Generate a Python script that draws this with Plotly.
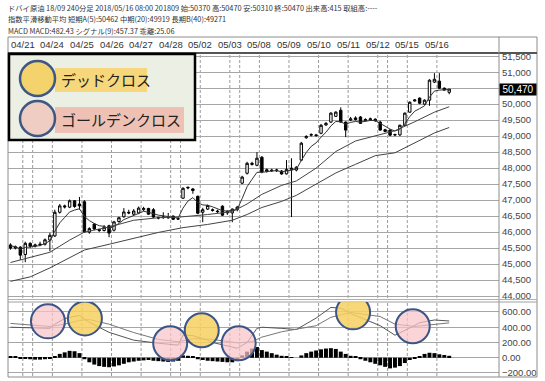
import plotly.graph_objects as go
from plotly.subplots import make_subplots

# ---------------- data ----------------
bar_open = [45600, 45500, 45530, 45300, 45650, 45560, 45600, 45620, 45750, 45880,
            46620, 46820, 46780, 46980, 46880, 46950, 46000, 46250, 46080, 46050,
            46200, 46060, 46330, 46480, 46620, 46560, 46600, 46700, 46740, 46700,
            46460, 46450, 46460, 46500, 46420, 47060, 47380, 47350, 47120, 46620,
            46720, 46700, 46660, 46810, 46600, 46600, 46700, 47530, 47840, 48150,
            48090, 48340, 47900, 47940, 47920, 47910, 47820, 47950, 47940, 48250,
            48950, 49030, 49040, 49090, 49350, 49440, 49620, 49810, 49440, 49500,
            49570, 49600, 49480, 49510, 49530, 49440, 49200, 49190, 49050, 49040,
            49340, 49750, 50100, 50190, 50000, 50125, 50690, 50720, 50500, 50370]
bar_high = [45650, 45580, 45560, 45700, 45680, 45640, 45700, 45800, 45980, 46700,
            46880, 46860, 47020, 47000, 47100, 47000, 46150, 46280, 46100, 46220,
            46230, 46350, 46480, 46750, 46700, 46720, 46800, 46790, 46760, 46750,
            46480, 46620, 46600, 46520, 46440, 47400, 47420, 47380, 47140, 46760,
            46860, 46740, 46700, 46840, 46680, 46740, 46820, 47760, 48200, 48200,
            48500, 48380, 47990, 47980, 47980, 47940, 48250, 48310, 48060, 48820,
            49030, 49090, 49070, 49380, 49440, 49750, 49780, 49900, 49460, 49600,
            49620, 49630, 49560, 49580, 49560, 49480, 49230, 49210, 49080, 49360,
            49740, 50090, 50160, 50210, 50150, 50780, 50970, 50970, 50520, 50470]
bar_low = [45450, 45460, 45130, 45060, 45500, 45520, 45560, 45580, 45400, 45850,
           46580, 46740, 46750, 46760, 46700, 45980, 45950, 46060, 46000, 46020,
           45840, 46020, 46300, 46450, 46560, 46520, 46560, 46660, 46540, 46440,
           46400, 46420, 46420, 46380, 46380, 47040, 47340, 47200, 46560, 46310,
           46690, 46640, 46600, 46500, 46540, 46310, 46650, 47500, 47800, 48080,
           48060, 47840, 47860, 47880, 47880, 47790, 47800, 46470, 47900, 48220,
           48920, 48990, 48980, 49060, 49320, 49420, 49600, 49420, 48970, 49470,
           49490, 49380, 49460, 49480, 49450, 49170, 49120, 49000, 49000, 49000,
           49320, 49730, 50080, 50000, 49980, 49950, 50660, 50480, 50420, 50310]
bar_close = [45500, 45540, 45280, 45650, 45560, 45600, 45620, 45760, 45900, 46620,
             46820, 46790, 46980, 46800, 46820, 46010, 46110, 46100, 46050, 46150,
             45970, 46320, 46450, 46630, 46600, 46660, 46750, 46740, 46560, 46470,
             46440, 46470, 46450, 46400, 46410, 47370, 47400, 47300, 46590, 46700,
             46830, 46680, 46640, 46530, 46640, 46720, 46780, 47720, 48150, 48120,
             48310, 47880, 47950, 47920, 47940, 47820, 47960, 48000, 48030, 48780,
             48990, 49050, 49020, 49340, 49400, 49720, 49750, 49440, 49190, 49540,
             49520, 49400, 49520, 49540, 49480, 49190, 49150, 49030, 49040, 49340,
             49720, 50060, 50130, 50030, 50125, 50750, 50780, 50500, 50440, 50470]

ma_short = [45560, 45550, 45460, 45520, 45535, 45560, 45580, 45640, 45730, 46030,
            46290, 46460, 46630, 46690, 46730, 46490, 46360, 46270, 46200, 46180,
            46110, 46180, 46270, 46390, 46460, 46530, 46600, 46650, 46620, 46570,
            46530, 46510, 46490, 46460, 46440, 46750, 46970, 47080, 46920, 46850,
            46840, 46790, 46740, 46670, 46660, 46680, 46710, 47050, 47420, 47650,
            47870, 47870, 47900, 47910, 47920, 47890, 47910, 47940, 47970, 48240,
            48490, 48680, 48790, 48970, 49120, 49320, 49460, 49450, 49370, 49430,
            49460, 49440, 49470, 49490, 49490, 49390, 49310, 49220, 49160, 49220,
            49390, 49610, 49780, 49860, 49950, 50220, 50410, 50440, 50440, 50460]

ma_mid_bar = [0, 4, 8, 12, 15, 20, 25, 30, 35, 40, 45, 48, 51, 55, 58, 62, 66, 70, 74, 78, 82, 86, 89]
ma_mid = [45050, 45200, 45370, 45750, 46000, 46160, 46370, 46450, 46480, 46550, 46640, 46880,
          47180, 47460, 47600, 48000, 48520, 48850, 49020, 49170, 49450, 49750, 49919]
ma_long_bar = [0, 4, 8, 12, 15, 20, 25, 30, 35, 40, 45, 48, 51, 55, 58, 62, 66, 70, 74, 78, 82, 86, 89]
ma_long = [44460, 44600, 44880, 45200, 45440, 45620, 45810, 45990, 46140, 46240, 46370, 46550,
           46770, 46960, 47150, 47500, 47850, 48120, 48390, 48480, 48780, 49100, 49271]

macd_bar = [0, 5, 8, 9, 11, 14, 16, 20, 25, 30, 34, 35, 37, 40, 41, 46, 48, 50, 51, 55, 58,
            62, 65, 67, 69, 75, 78, 81, 83, 86, 89]
macd_line = [400, 395, 385, 440, 515, 555, 465, 333, 230, 190, 165, 295, 290, 230, 200, 124, 200,
             385, 400, 385, 370, 520, 660, 650, 580, 420, 295, 390, 460, 495, 482]
signal_bar = [0, 4, 8, 11, 14, 16, 20, 25, 30, 34, 37, 41, 46, 49, 51, 55, 58, 62, 65, 69, 75, 78,
              82, 86, 89]
signal_line = [450, 430, 410, 440, 490, 500, 440, 330, 240, 210, 250, 240, 195, 210, 270, 340, 370,
               420, 530, 595, 540, 440, 410, 435, 457]
macd_hist = [15, 10, -10, -15, -20, -25, -25, -20, -15, 20,
             50, 70, 90, 85, 60, -20, -60, -90, -110, -120,
             -125, -115, -100, -80, -60, -50, -40, -35, -30, -40,
             -45, -50, -55, -50, -40, 30, 25, 10, -20, -30,
             -40, -45, -50, -55, -60, -60, -45, 30, 80, 120,
             140, 100, 80, 60, 40, 25, 10, 5, 0, 30,
             60, 80, 95, 110, 120, 125, 115, 80, 50, 25,
             10, -20, -40, -60, -80, -100, -120, -140, -130, -110,
             -70, -30, -5, 15, 50, 65, 60, 45, 35, 25]

# MACD crosses marked on the chart: (bar position, MACD value, kind)
cross_bar = [7.6, 15.1, 32.4, 38.8, 46.3, 69.5, 81.6]
cross_val = [477, 516, 190, 360, 190, 595, 412]
cross_kind = ["golden", "dead", "golden", "dead", "golden", "dead", "golden"]

day_labels = ["04/21", "04/24", "04/25", "04/26", "04/27", "04/28", "05/02", "05/03",
              "05/08", "05/09", "05/10", "05/11", "05/12", "05/15", "05/16"]
day_first_bar = [3, 9, 15, 21, 27, 33, 39, 45, 51, 57, 63, 69, 75, 81, 87]
session_first_bar = [5, 35, 47, 77]

price_ticks = list(range(44000, 51501, 500))
macd_ticks = [-200, 0, 200, 400, 600]

header_lines = [
    "ドバイ原油 18/09 240分足 2018/05/16 08:00 201809 始:50370 高:50470 安:50310 終:50470 出来高:415 取組高:----",
    "指数平滑移動平均 短期A(5):50462 中期(20):49919 長期B(40):49271",
    "MACD MACD:482.43 シグナル(9):457.37 乖離:25.06",
]
legend_dead = "デッドクロス"
legend_golden = "ゴールデンクロス"

# ---------------- geometry helpers (pixel -> paper) ----------------
L, R, T, B = 8, 499, 53, 376


def px(x):
    return (x - L) / (R - L)


def py(y):
    return (B - y) / (B - T)


JP = "Noto Sans CJK JP"
NUM = "Liberation Sans, Arial, sans-serif"
GRID = "#A6A6A6"

bars = list(range(len(bar_close)))
last_price = bar_close[-1]
# the current-price tag hides the tick label next to it
price_ticktext = ["" if abs(v - last_price) < 150 else f"{v:,}" for v in price_ticks]

fig = make_subplots(rows=2, cols=1, shared_xaxes=True)

fig.add_trace(go.Candlestick(
    x=bars, open=bar_open, high=bar_high, low=bar_low, close=bar_close,
    increasing=dict(line=dict(color="black", width=1), fillcolor="white"),
    decreasing=dict(line=dict(color="black", width=1), fillcolor="black"),
    whiskerwidth=0, hoverinfo="skip"), row=1, col=1)
fig.add_trace(go.Scatter(x=bars, y=ma_short, mode="lines",
                         line=dict(color="#333333", width=1)), row=1, col=1)
fig.add_trace(go.Scatter(x=ma_mid_bar, y=ma_mid, mode="lines",
                         line=dict(color="#444444", width=1)), row=1, col=1)
fig.add_trace(go.Scatter(x=ma_long_bar, y=ma_long, mode="lines",
                         line=dict(color="#444444", width=1)), row=1, col=1)

fig.add_trace(go.Bar(x=bars, y=macd_hist, marker=dict(color="black", line=dict(width=0)),
                     width=0.8), row=2, col=1)
fig.add_trace(go.Scatter(x=macd_bar, y=macd_line, mode="lines",
                         line=dict(color="#555555", width=1)), row=2, col=1)
fig.add_trace(go.Scatter(x=signal_bar, y=signal_line, mode="lines",
                         line=dict(color="#777777", width=1)), row=2, col=1)

fig.update_layout(
    template="none",
    width=545, height=381,
    margin=dict(l=L, r=545 - R, t=T, b=381 - B, pad=0, autoexpand=False),
    showlegend=False, plot_bgcolor="white", paper_bgcolor="white",
    xaxis_rangeslider_visible=False,
)
fig.update_xaxes(range=[-0.5, 99.1], showticklabels=False, showgrid=False,
                 zeroline=False, ticks="", showline=False, automargin=False)
fig.update_layout(
    yaxis=dict(domain=[py(298), 1], range=[43940, 51600], side="right",
               tickvals=price_ticks, ticktext=price_ticktext, showgrid=True, gridcolor=GRID,
               gridwidth=1, zeroline=False, showline=False, ticks="", automargin=False,
               ticklabelstandoff=2,
               tickfont=dict(family=NUM, size=9.5, color="#444444")),
    yaxis2=dict(domain=[0, py(302)], range=[-240, 731], side="right",
                tickvals=macd_ticks, tickformat=".2f", showgrid=True, gridcolor=GRID,
                gridwidth=1, zeroline=False, showline=False, ticks="", automargin=False,
                ticklabelstandoff=2,
                tickfont=dict(family=NUM, size=9.5, color="#444444")),
)

shapes = []
# vertical dashed separators
for b in day_first_bar + session_first_bar:
    for xr, yr in (("x", "y domain"), ("x2", "y2 domain")):
        shapes.append(dict(type="line", xref=xr, yref=yr, x0=b - 0.5, x1=b - 0.5, y0=0, y1=1,
                           line=dict(color="#9A9A9A", width=1, dash="3px,2px"), layer="below"))

# frame
frame = "#8C8C8C"
shapes += [
    dict(type="rect", xref="paper", yref="paper", x0=px(8), x1=px(537), y0=py(377), y1=py(37),
         line=dict(color=frame, width=1)),
    dict(type="line", xref="paper", yref="paper", x0=px(8), x1=px(537), y0=py(53), y1=py(53),
         line=dict(color="#555555", width=2)),
    dict(type="line", xref="paper", yref="paper", x0=px(499), x1=px(499), y0=py(377), y1=py(37),
         line=dict(color=frame, width=1)),
    dict(type="line", xref="paper", yref="paper", x0=px(8), x1=px(537), y0=py(299.5), y1=py(299.5),
         line=dict(color="#B0B0B0", width=1)),
    dict(type="line", xref="paper", yref="paper", x0=px(8), x1=px(537), y0=py(302), y1=py(302),
         line=dict(color="#A0A0A0", width=1)),
]

# MACD cross circles
fills = {"golden": "rgba(248,196,200,0.72)", "dead": "rgba(246,208,96,0.85)"}
for b, v, k in zip(cross_bar, cross_val, cross_kind):
    shapes.append(dict(type="circle", xref="x2", yref="y2", xsizemode="pixel", ysizemode="pixel",
                       xanchor=b, yanchor=v, x0=-17, x1=17, y0=-17, y1=17,
                       fillcolor=fills[k], line=dict(color="#3B5587", width=2)))

# legend box
shapes += [
    dict(type="rect", xref="paper", yref="paper", x0=px(9), x1=px(195), y0=py(140), y1=py(54),
         fillcolor="#ECEFE4", line=dict(color="black", width=2.5)),
    dict(type="rect", xref="paper", yref="paper", x0=px(55), x1=px(147), y0=py(92), y1=py(68),
         fillcolor="#F6D77B", line=dict(width=0)),
    dict(type="rect", xref="paper", yref="paper", x0=px(55), x1=px(184), y0=py(133), y1=py(107),
         fillcolor="#EEC1B4", line=dict(width=0)),
    dict(type="circle", xref="paper", yref="paper", x0=px(20), x1=px(55), y0=py(96), y1=py(61),
         fillcolor="#F4D36C", line=dict(color="#3E5783", width=2.5)),
    dict(type="circle", xref="paper", yref="paper", x0=px(20), x1=px(55), y0=py(136), y1=py(101),
         fillcolor="#F0CDC2", line=dict(color="#3E5783", width=2.5)),
]
fig.update_layout(shapes=shapes)

ann = []
for i, line in enumerate(header_lines):
    ann.append(dict(xref="paper", yref="paper", x=px(6), y=py(8 + i * 11.3), xanchor="left",
                    yanchor="middle", text=line, showarrow=False,
                    font=dict(family=JP, size=7.3, color="#333333")))
for lab, b in zip(day_labels, day_first_bar):
    ann.append(dict(xref="x", yref="paper", x=b - 0.5, y=py(45), xanchor="center",
                    yanchor="middle", text=lab, showarrow=False,
                    font=dict(family=NUM, size=9.5, color="#333333")))
ann.append(dict(xref="paper", yref="y", x=1, y=last_price, xanchor="left", yanchor="middle",
                text=f"{last_price:,}", showarrow=False, bgcolor="black", width=36, height=11,
                borderpad=0, font=dict(family=NUM, size=10, color="white")))
ann.append(dict(xref="paper", yref="paper", x=px(59), y=py(80), xanchor="left", yanchor="middle",
                text=legend_dead, showarrow=False, font=dict(family=JP, size=15, color="#222222")))
ann.append(dict(xref="paper", yref="paper", x=px(59), y=py(120), xanchor="left", yanchor="middle",
                text=legend_golden, showarrow=False, font=dict(family=JP, size=15, color="#222222")))
fig.update_layout(annotations=ann)

fig.write_html("out.html", config={"displayModeBar": False},
               post_script="document.body.style.margin='0';document.body.style.overflow='hidden';")
